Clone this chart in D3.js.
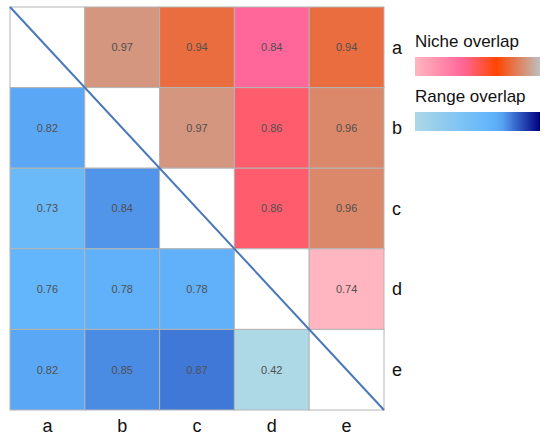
<!DOCTYPE html>
<html>
<head>
<meta charset="utf-8">
<script src="https://cdn.jsdelivr.net/npm/d3@7"></script>
<style>
  body { margin: 0; background: #fff; }
  text { font-family: "Liberation Sans", Arial, sans-serif; }
</style>
</head>
<body>
<div id="chart"></div>
<script>
// species on both axes
const species = ["a", "b", "c", "d", "e"];

// upper triangle: niche overlap (row, column)
const nicheOverlap = [
  [null, 0.97, 0.94, 0.84, 0.94],
  [null, null, 0.97, 0.86, 0.96],
  [null, null, null, 0.86, 0.96],
  [null, null, null, null, 0.74],
  [null, null, null, null, null]
];

// lower triangle: range overlap (row, column)
const rangeOverlap = [
  [null, null, null, null, null],
  [0.82, null, null, null, null],
  [0.73, 0.84, null, null, null],
  [0.76, 0.78, 0.78, null, null],
  [0.82, 0.85, 0.87, 0.42, null]
];

const legendTitles = ["Niche overlap", "Range overlap"];

const width = 550, height = 435;
const grid = {left: 10, right: 384, top: 7, bottom: 410};

const svg = d3.select("#chart").append("svg")
  .attr("width", width)
  .attr("height", height);

const x = d3.scaleBand().domain(species).range([grid.left, grid.right]);
const y = d3.scaleBand().domain(species).range([grid.top, grid.bottom]);

//colour scales
const nicheColor = d3.scaleLinear()
  .domain([0.74, 0.84, 0.91, 1.0])
  .range(["#ffb6c1", "#ff6699", "#ff4500", "#bebebe"]);

const rangeColor = d3.scaleLinear()
  .domain([0.42, 0.76, 0.82, 0.87, 1.0])
  .range(["#add8e6", "#63b6fb", "#5aa8f5", "#4078d8", "#000080"]);

// flatten into cells
let cells = [];
species.forEach(function(r, i) {
  species.forEach(function(c, j) {
    let v = null, kind = null;
    if (nicheOverlap[i][j] !== null) { v = nicheOverlap[i][j]; kind = "niche"; }
    else if (rangeOverlap[i][j] !== null) { v = rangeOverlap[i][j]; kind = "range"; }
    cells.push({row: r, col: c, value: v, kind: kind});
  });
});

const cell = svg.append("g").attr("class", "cells")
  .selectAll("g")
  .data(cells)
  .enter().append("g");

cell.append("rect")
  .attr("x", function(d) { return x(d.col); })
  .attr("y", function(d) { return y(d.row); })
  .attr("width", x.bandwidth())
  .attr("height", y.bandwidth())
  .style("fill", function(d) {
    if (d.kind === "niche") return nicheColor(d.value);
    if (d.kind === "range") return rangeColor(d.value);
    return "#fff";
  })
  .style("stroke", "#b4b4b4")
  .style("stroke-width", 1);

cell.filter(function(d) { return d.value !== null; })
  .append("text")
  .attr("x", function(d) { return x(d.col) + x.bandwidth() / 2; })
  .attr("y", function(d) { return y(d.row) + y.bandwidth() / 2; })
  .attr("dy", "0.35em")
  .attr("text-anchor", "middle")
  .style("font-size", "11px")
  .style("fill", "#505050")
  .text(function(d) { return d3.format(".2f")(d.value); });

// diagonal
svg.append("line")
  .attr("x1", grid.left).attr("y1", grid.top)
  .attr("x2", grid.right).attr("y2", grid.bottom)
  .style("stroke", "#4a78b8")
  .style("stroke-width", 2);

// row labels (right)
svg.append("g").selectAll("text")
  .data(species)
  .enter().append("text")
  .attr("x", grid.right + 8)
  .attr("y", function(d) { return y(d) + y.bandwidth() / 2; })
  .attr("dy", "0.35em")
  .style("font-size", "18px")
  .style("fill", "#111")
  .text(function(d) { return d; });

// column labels (bottom)
svg.append("g").selectAll("text")
  .data(species)
  .enter().append("text")
  .attr("x", function(d) { return x(d) + x.bandwidth() / 2; })
  .attr("y", grid.bottom + 16)
  .attr("dy", "0.35em")
  .attr("text-anchor", "middle")
  .style("font-size", "18px")
  .style("fill", "#111")
  .text(function(d) { return d; });

// legends: gradient sampled from each scale over its domain
const defs = svg.append("defs");
const legendScales = [nicheColor, rangeColor];
const legendX = 415, legendW = 125, legendH = 19;
const legendTop = [57, 112];

legendScales.forEach(function(sc, k) {
  const dom = sc.domain();
  const lo = dom[0], hi = dom[dom.length - 1];
  const grad = defs.append("linearGradient")
    .attr("id", "grad" + k)
    .attr("x1", "0%").attr("x2", "100%")
    .attr("y1", "0%").attr("y2", "0%");
  grad.selectAll("stop")
    .data(d3.range(0, 1.0001, 0.05))
    .enter().append("stop")
    .attr("offset", function(t) { return (t * 100) + "%"; })
    .attr("stop-color", function(t) { return sc(lo + t * (hi - lo)); });

  svg.append("text")
    .attr("x", legendX)
    .attr("y", legendTop[k] - 10)
    .style("font-size", "17px")
    .style("fill", "#111")
    .text(legendTitles[k]);

  svg.append("rect")
    .attr("x", legendX)
    .attr("y", legendTop[k])
    .attr("width", legendW)
    .attr("height", legendH)
    .style("fill", "url(#grad" + k + ")");
});
</script>
</body>
</html>
